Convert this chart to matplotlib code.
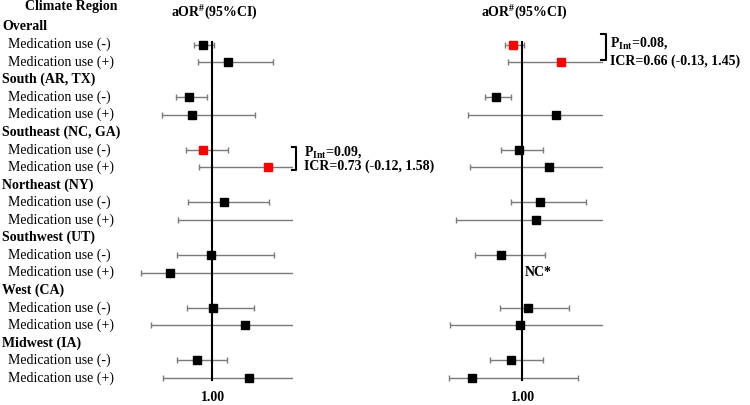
import numpy as np
import matplotlib
matplotlib.use("Agg")
import matplotlib.pyplot as plt

plt.rcParams['font.family'] = ['Liberation Serif', 'DejaVu Serif']
plt.rcParams['mathtext.fontset'] = 'custom'
plt.rcParams['mathtext.rm'] = 'Liberation Serif:bold'
plt.rcParams['mathtext.it'] = 'Liberation Serif:bold'
plt.rcParams['mathtext.bf'] = 'Liberation Serif:bold'

# ---------------- data ----------------
regions = ["Overall", "South (AR, TX)", "Southeast (NC, GA)", "Northeast (NY)",
           "Southwest (UT)", "West (CA)", "Midwest (IA)"]
sub_labels = ["Medication use (-)", "Medication use (+)"]

# left panel (values beyond 3 run off the drawn scale)
left_or = [0.885, 1.248, 0.729, 0.766, 0.885, 2.13, 1.18, 3.4, 0.98, 0.563, 1.018, 1.565, 0.812, 1.66]
left_lo = [0.787, 0.823, 0.611, 0.509, 0.700, 0.842, 0.725, 0.628, 0.620, 0.381, 0.715, 0.439, 0.620, 0.516]
left_hi = [1.027, 2.30, 0.934, 1.79, 1.237, 5.3, 2.17, 18.0, 2.32, 4.6, 1.77, 6.2, 1.22, 5.4]
left_red = [4, 5]

# right panel (NaN = not calculable)
right_or = [0.889, 1.71, 0.703, 1.60, 0.964, 1.45, 1.287, 1.22, 0.752, np.nan, 1.085, 0.977, 0.865, 0.507]
right_lo = [0.797, 0.834, 0.610, 0.485, 0.755, 0.498, 0.861, 0.410, 0.533, np.nan, 0.745, 0.378, 0.653, 0.375]
right_hi = [1.03, 3.5, 0.861, 5.3, 1.34, 4.2, 2.38, 3.6, 1.366, np.nan, 1.91, 3.3, 1.335, 2.15]
right_red = [0, 1]

header_col = "Climate Region"
header_est = "aOR$^{\\#}$(95%CI)"
ref_label = "1.00"
left_note = ["P$_{\\mathrm{Int}}$=0.09,", "ICR=0.73 (-0.12, 1.58)"]
right_note = ["P$_{\\mathrm{Int}}$=0.08,", "ICR=0.66 (-0.13, 1.45)"]
nc_label = "NC*"

# ---------------- layout ----------------
W, H = 750, 405
fig = plt.figure(figsize=(W / 100, H / 100), dpi=100)
ylim = (22.54, -0.538)
XLIM = (0.35, 3.0)
px_per_ln = 73.7

def panel(center_px):
    left_px = center_px - np.log(1 / XLIM[0]) * px_per_ln
    width_px = np.log(XLIM[1] / XLIM[0]) * px_per_ln
    ax = fig.add_axes([left_px / W, 0, width_px / W, 1])
    ax.set_xscale('log')
    ax.set_xlim(*XLIM)
    ax.set_ylim(*ylim)
    ax.axis('off')
    return ax

# overlay axes in pixel x, row y
ov = fig.add_axes([0, 0, 1, 1])
ov.set_xlim(0, W)
ov.set_ylim(*ylim)
ov.axis('off')

# data rows
rows = []
r = 1
for reg in regions:
    ov.text(2, r, reg, fontsize=10, fontweight='bold', ha='left', va='center')
    r += 1
    for s in sub_labels:
        ov.text(8, r, s, fontsize=10, ha='left', va='center')
        rows.append(r)
        r += 1
rows = np.array(rows, dtype=float)

ov.text(71, -0.14, header_col, fontsize=10, fontweight='bold', ha='center', va='center')

def draw(ax, ors, los, his, reds, center_px):
    ors = np.array(ors, float); los = np.array(los, float); his = np.array(his, float)
    ok = ~np.isnan(ors)
    ax.errorbar(ors[ok], rows[ok], xerr=[ors[ok] - los[ok], his[ok] - ors[ok]],
                fmt='none', ecolor='#7a7a7a', elinewidth=1.0, capsize=2, capthick=1.0, zorder=2)
    ax.plot([1, 1], [1.84, 21.1], color='black', lw=1.5, zorder=3)
    cols = ['red' if i in reds else 'black' for i in range(len(ors))]
    for i in np.where(ok)[0]:
        ax.plot(ors[i], rows[i], marker='s', ms=5.6, color=cols[i], mec=cols[i], zorder=4, ls='none')
    ov.text(center_px + 2.5, 0.2, header_est, fontsize=10, fontweight='bold', ha='center', va='center')
    ov.text(center_px + 1, 22.14, ref_label, fontsize=10, fontweight='bold', ha='center', va='center')

axL = panel(212.0)
draw(axL, left_or, left_lo, left_hi, left_red, 212.0)
axR = panel(521.7)
draw(axR, right_or, right_lo, right_hi, right_red, 521.7)

# brackets and notes
def bracket(x0, x1, ytop, ybot, tx, ty1, ty2, lines):
    ov.plot([x0, x1, x1, x0], [ytop, ytop, ybot, ybot], color='black', lw=1.5)
    ov.text(tx, ty1, lines[0], fontsize=10, fontweight='bold', ha='left', va='center')
    ov.text(tx, ty2, lines[1], fontsize=10, fontweight='bold', ha='left', va='center')

bracket(292.0, 296.0, 7.82, 9.15, 304.5, 8.1, 8.96, left_note)
bracket(601.0, 605.5, 1.42, 2.86, 610.5, 1.9, 2.94, right_note)

# NC* for not calculable row
nc_idx = int(np.where(np.isnan(np.array(right_or, float)))[0][0])
ov.text(525, rows[nc_idx], nc_label, fontsize=10, fontweight='bold', ha='left', va='center')

fig.savefig("out.png", dpi=100)
